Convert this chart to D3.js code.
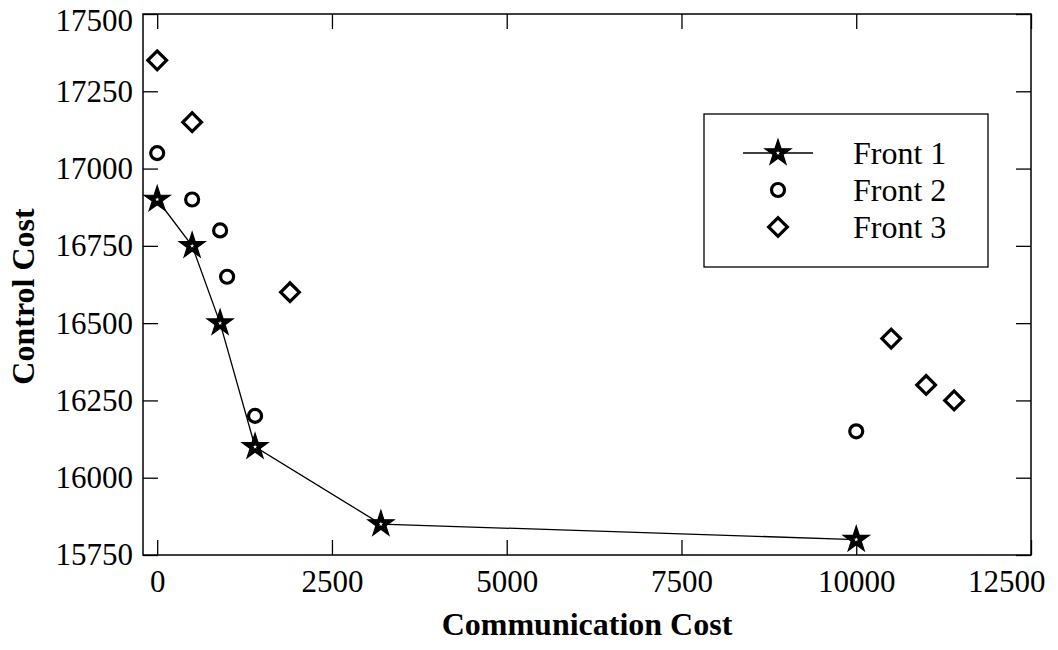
<!DOCTYPE html>
<html>
<head>
<meta charset="utf-8">
<script src="https://cdn.jsdelivr.net/npm/d3@7"></script>
<style>
  body { margin: 0; background: #fff; }
  text { font-family: "Liberation Serif", "Times New Roman", serif; fill: #000; }
</style>
</head>
<body>
<div id="chart"></div>
<script>
// Pareto fronts: communication cost vs control cost
const front1X = [0, 500, 900, 1400, 3200, 10000];
const front1Y = [16900, 16750, 16500, 16100, 15850, 15800];
const front2X = [0, 500, 900, 1000, 1400, 10000];
const front2Y = [17050, 16900, 16800, 16650, 16200, 16150];
const front3X = [0, 500, 1900, 10500, 11000, 11400];
const front3Y = [17350, 17150, 16600, 16450, 16300, 16250];
const xTicks = [0, 2500, 5000, 7500, 10000, 12500];
const yTicks = [15750, 16000, 16250, 16500, 16750, 17000, 17250, 17500];
const seriesNames = ["Front 1", "Front 2", "Front 3"];

const W = 1058, H = 650;
const margin = { top: 14, right: 27, bottom: 95, left: 143 };
const width = W - margin.left - margin.right;
const height = H - margin.top - margin.bottom;

const svg = d3.select("#chart").append("svg")
  .attr("width", W).attr("height", H);
const g = svg.append("g")
  .attr("transform", `translate(${margin.left},${margin.top})`);

const x = d3.scaleLinear().domain([-203, 12500]).range([0, width]);
const y = d3.scaleLinear().domain([15750, 17500]).range([height, 0]);

const zip = (xs, ys) => xs.map((v, i) => ({ x: v, y: ys[i] }));
const f1 = zip(front1X, front1Y);
const f2 = zip(front2X, front2Y);
const f3 = zip(front3X, front3Y);

const tickLen = 15;
const fontSize = "31px";
const fmt = d3.format("d");

// axes with inward ticks, mirrored on top/right
const axBottom = g.append("g").attr("transform", `translate(0,${height})`)
  .call(d3.axisBottom(x).tickValues(xTicks).tickFormat(fmt).tickSize(-tickLen).tickPadding(15));
const axTop = g.append("g")
  .call(d3.axisTop(x).tickValues(xTicks).tickSize(-tickLen).tickFormat(""));
const axLeft = g.append("g")
  .call(d3.axisLeft(y).tickValues(yTicks).tickFormat(fmt).tickSize(-tickLen).tickPadding(10));
const axRight = g.append("g").attr("transform", `translate(${width},0)`)
  .call(d3.axisRight(y).tickValues(yTicks).tickSize(-tickLen).tickFormat(""));

[axBottom, axTop, axLeft, axRight].forEach(a => {
  a.select(".domain").remove();
  a.selectAll("line").attr("stroke", "#000").attr("stroke-width", 1.3);
  a.selectAll("text").style("font-size", fontSize)
    .style("font-family", "'Liberation Serif', serif").attr("fill", "#000");
});
axBottom.selectAll("text").attr("dy", "0.71em");
// edge labels nudged inside the picture
axBottom.selectAll("text").filter(d => d === 12500)
  .attr("text-anchor", "end").attr("x", 14);
axLeft.selectAll("text").filter(d => d === 17500)
  .attr("dy", "0.52em");

g.append("rect").attr("width", width).attr("height", height)
  .attr("fill", "none").attr("stroke", "#000").attr("stroke-width", 1.5);

// axis titles
svg.append("text")
  .attr("x", margin.left + width / 2).attr("y", 635)
  .attr("text-anchor", "middle")
  .style("font-size", "32px").style("font-weight", "bold")
  .text("Communication Cost");
svg.append("text")
  .attr("transform", `translate(34,${margin.top + height / 2 + 12}) rotate(-90)`)
  .attr("text-anchor", "middle")
  .style("font-size", "32px").style("font-weight", "bold")
  .text("Control Cost");

const star = d3.symbol().type(d3.symbolStar).size(210);
const tinyStar = d3.symbol().type(d3.symbolStar).size(6);
const diamond = d3.symbol().type(d3.symbolSquare).size(175);

function drawStar(sel) {
  sel.append("path").attr("d", star).attr("fill", "#000")
    .attr("stroke", "#000").attr("stroke-width", 1.2).attr("stroke-linejoin", "miter");
  sel.append("path").attr("d", tinyStar).attr("fill", "#fff");
}
function drawCircle(sel) {
  sel.append("circle").attr("r", 6.5).attr("fill", "none")
    .attr("stroke", "#000").attr("stroke-width", 3.2);
}
function drawDiamond(sel) {
  sel.append("path").attr("d", diamond).attr("transform", "rotate(45)")
    .attr("fill", "none").attr("stroke", "#000").attr("stroke-width", 3.2);
}

// front 1 line
g.append("path").datum(f1)
  .attr("fill", "none").attr("stroke", "#000").attr("stroke-width", 1.3)
  .attr("d", d3.line().x(d => x(d.x)).y(d => y(d.y)));

g.selectAll(".f2").data(f2).enter().append("g")
  .attr("transform", d => `translate(${x(d.x)},${y(d.y)})`).call(drawCircle);
g.selectAll(".f3").data(f3).enter().append("g")
  .attr("transform", d => `translate(${x(d.x)},${y(d.y)})`).call(drawDiamond);
g.selectAll(".f1").data(f1).enter().append("g")
  .attr("transform", d => `translate(${x(d.x)},${y(d.y)})`).call(drawStar);

// legend
const lg = svg.append("g").attr("transform", "translate(704,114)");
lg.append("rect").attr("width", 284).attr("height", 153)
  .attr("fill", "#fff").attr("stroke", "#000").attr("stroke-width", 1.3);
const rowY = [39, 76, 113];
lg.append("line").attr("x1", 39).attr("x2", 109).attr("y1", rowY[0]).attr("y2", rowY[0])
  .attr("stroke", "#000").attr("stroke-width", 1.3);
const markers = [drawStar, drawCircle, drawDiamond];
seriesNames.forEach((name, i) => {
  const m = lg.append("g").attr("transform", `translate(74,${rowY[i]})`);
  markers[i](m);
  lg.append("text").attr("x", 149).attr("y", rowY[i]).attr("dy", "0.35em")
    .style("font-size", "32px").text(name);
});
</script>
</body>
</html>
